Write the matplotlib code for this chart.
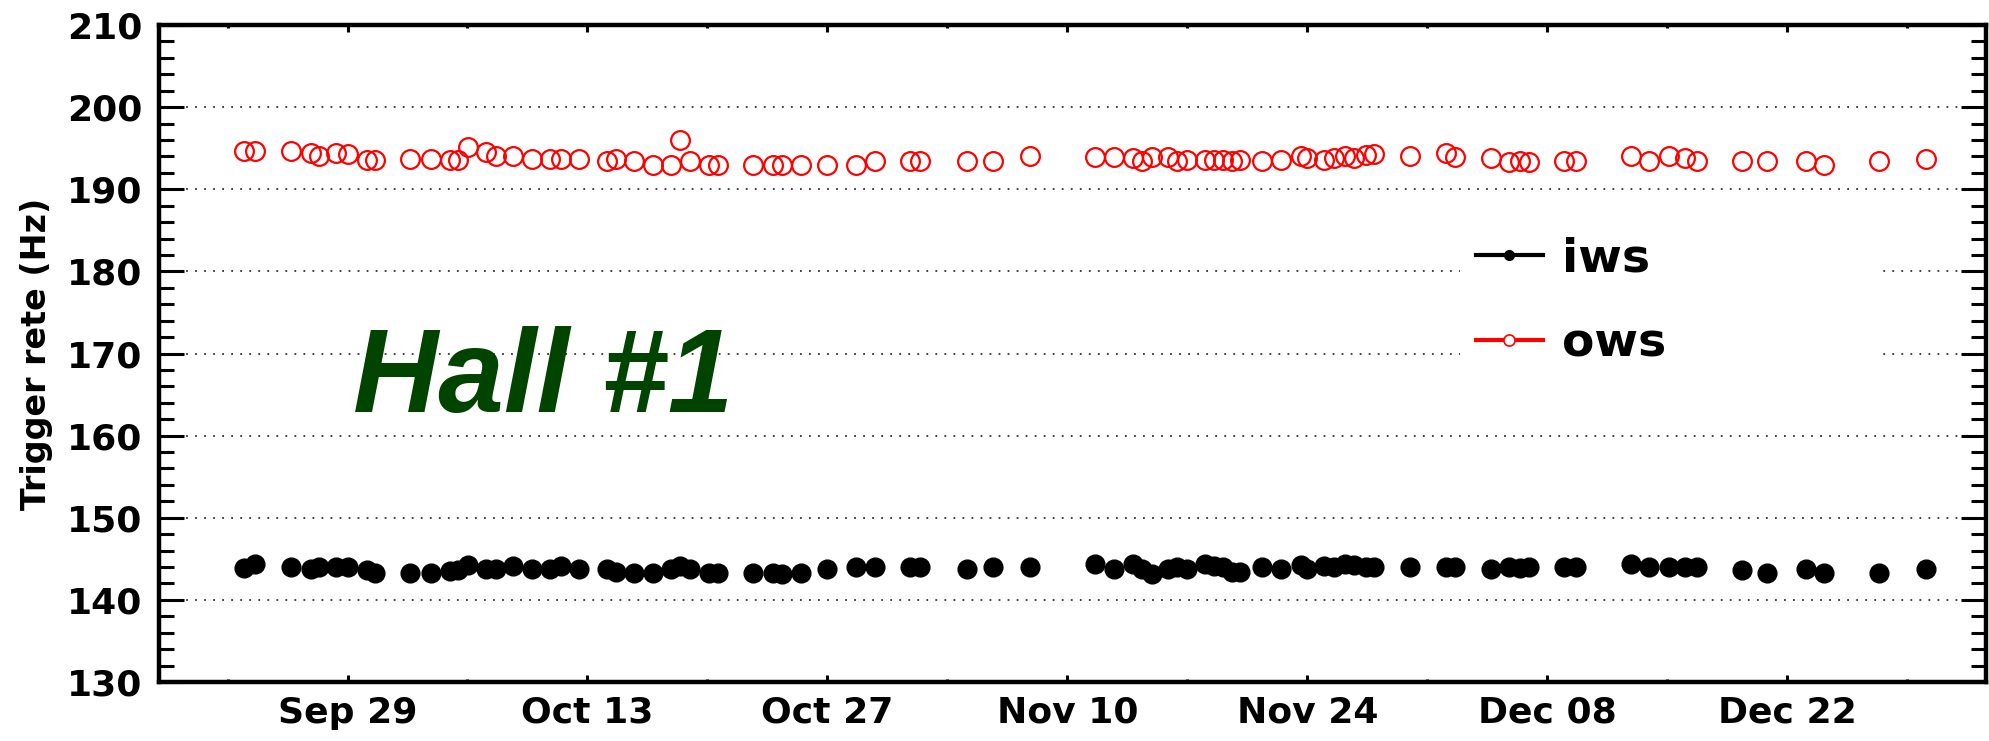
import datetime as dt
import matplotlib
matplotlib.use("Agg")
import matplotlib.pyplot as plt
import matplotlib.dates as mdates
import matplotlib.ticker as mticker
from matplotlib.lines import Line2D
from matplotlib.patches import Rectangle

# ---------------- data ----------------
base_date = dt.datetime(2011, 9, 29)
# run times, in days relative to Sep 29
days = [
    -6.05, -5.40, -3.27, -2.14, -1.66, -0.65, 0.00, 1.13, 1.63,
    3.62, 4.87, 5.96, 6.45, 7.02, 8.10, 8.65, 9.67, 10.75, 11.81, 12.47, 13.52,
    15.14, 15.64, 16.73, 17.83, 18.89, 19.42, 19.99, 21.10, 21.62,
    23.65, 24.80, 25.36, 26.48, 28.00, 29.69, 30.75, 32.84, 33.42, 36.15, 37.66, 39.82,
    43.63, 44.75, 45.84, 46.37, 46.94, 47.88, 48.40, 48.97, 50.02, 50.54, 51.11, 51.58,
    52.10, 53.35, 54.45, 55.62, 56.01, 57.00, 57.57, 58.22, 58.75, 59.40, 59.92,
    61.98, 64.09, 64.62, 66.72, 67.78, 68.41, 68.92, 70.99, 71.68,
    74.87, 75.96, 77.11, 78.03, 78.72, 81.38, 82.85, 85.08, 86.17, 89.36, 92.11]

iws = [
    143.9, 144.4, 144.0, 143.7, 144.0, 144.0, 144.0, 143.6, 143.3,
    143.3, 143.3, 143.5, 143.6, 144.2, 143.8, 143.7, 144.1, 143.7, 143.7, 144.1, 143.7,
    143.7, 143.4, 143.3, 143.3, 143.8, 144.1, 143.8, 143.3, 143.3,
    143.3, 143.3, 143.2, 143.3, 143.7, 144.0, 144.0, 144.0, 144.0, 143.7, 144.0, 144.0,
    144.4, 143.8, 144.4, 143.8, 143.2, 143.8, 144.0, 143.8, 144.4, 144.1, 144.0, 143.4,
    143.4, 144.0, 143.8, 144.3, 143.8, 144.1, 144.0, 144.4, 144.3, 144.0, 144.0,
    144.0, 144.0, 144.0, 143.7, 144.0, 143.9, 144.0, 144.0, 144.0,
    144.4, 144.0, 144.0, 144.0, 144.0, 143.6, 143.3, 143.7, 143.3, 143.3, 143.7]

ows = [
    194.7, 194.7, 194.7, 194.4, 194.1, 194.4, 194.3, 193.6, 193.6,
    193.7, 193.7, 193.6, 193.6, 195.2, 194.5, 194.0, 194.0, 193.7, 193.7, 193.7, 193.7,
    193.4, 193.7, 193.4, 193.0, 193.0, 196.0, 193.4, 193.0, 193.0,
    193.0, 193.0, 193.0, 193.0, 193.0, 193.0, 193.4, 193.4, 193.4, 193.4, 193.4, 194.0,
    193.9, 193.9, 193.8, 193.5, 193.9, 193.9, 193.5, 193.6, 193.6, 193.6, 193.6, 193.4,
    193.6, 193.4, 193.6, 194.0, 193.8, 193.6, 193.8, 194.1, 193.8, 194.2, 194.3,
    194.0, 194.4, 193.9, 193.8, 193.3, 193.4, 193.3, 193.4, 193.4,
    194.0, 193.4, 194.0, 193.8, 193.4, 193.4, 193.4, 193.4, 193.0, 193.4, 193.7]

series_labels = ["iws", "ows"]
x_major_dates = ["2011-09-29", "2011-10-13", "2011-10-27", "2011-11-10",
                 "2011-11-24", "2011-12-08", "2011-12-22"]
x_minor_dates = ["2011-09-22", "2011-10-06", "2011-10-20", "2011-11-03",
                 "2011-11-17", "2011-12-01", "2011-12-15", "2011-12-29"]
y_ticks = [130, 140, 150, 160, 170, 180, 190, 200, 210]
grid_levels = [140, 150, 160, 170, 180, 190, 200]
x_start_day, x_end_day = -11.0, 95.6
ylim = (130, 210)
ylabel = "Trigger rete (Hz)"
hall_text = "Hall #1"

# ---------------- figure ----------------
W, H = 1990, 741
fig = plt.figure(figsize=(W / 100, H / 100), dpi=100)
L, R, B, T = 159, 1986, 682, 25
ax = fig.add_axes([L / W, 1 - B / H, (R - L) / W, (B - T) / H])

base_num = mdates.date2num(base_date)
x = [base_num + d for d in days]

ax.plot(x, iws, linestyle="none", marker="o", markersize=13.5,
        markerfacecolor="black", markeredgecolor="black", markeredgewidth=1, zorder=3)
ax.plot(x, ows, linestyle="none", marker="o", markersize=13.5,
        markerfacecolor="none", markeredgecolor="red", markeredgewidth=1.6, zorder=3)

ax.set_xlim(base_num + x_start_day, base_num + x_end_day)
ax.set_ylim(*ylim)

# grid lines (dotted) at major levels
for g in grid_levels:
    ax.axhline(g, color="#333333", linestyle=(0, (1, 4)), linewidth=1.3, zorder=1)

# white box behind legend (breaks the gridlines there)
ax.add_patch(Rectangle((0.712, 0.45), 0.2316, 0.26, transform=ax.transAxes,
                       facecolor="white", edgecolor="none", zorder=2))

# axes ticks
ax.xaxis.set_major_locator(mticker.FixedLocator(
    [mdates.datestr2num(d) for d in x_major_dates]))
ax.xaxis.set_minor_locator(mticker.FixedLocator(
    [mdates.datestr2num(d) for d in x_minor_dates]))
ax.xaxis.set_major_formatter(mdates.DateFormatter("%b %d"))
ax.set_yticks(y_ticks)
ax.yaxis.set_minor_locator(mticker.MultipleLocator(2))

for sp in ax.spines.values():
    sp.set_linewidth(3.2)

ax.tick_params(axis="y", which="major", direction="in", length=18, width=2.2,
               left=True, right=True, pad=12, labelsize=26)
ax.tick_params(axis="y", which="minor", direction="in", length=10.5, width=2.2,
               left=True, right=True)
ax.tick_params(axis="x", which="major", direction="in", length=5, width=2.2,
               top=True, bottom=True, pad=10, labelsize=26)
ax.tick_params(axis="x", which="minor", direction="in", length=2.2, width=2.2,
               top=True, bottom=True)
for lab in ax.get_xticklabels() + ax.get_yticklabels():
    lab.set_fontweight("bold")
    lab.set_family("DejaVu Sans")

ax.set_ylabel(ylabel, fontsize=24, fontweight="bold", family="DejaVu Sans")
ax.yaxis.set_label_coords(-0.058, 0.5)

ax.text(0.106, 0.411, hall_text, transform=ax.transAxes, ha="left", va="baseline",
        fontsize=85, fontweight="bold", fontstyle="italic", color="#004400",
        family="Liberation Sans", zorder=4)

handles = [
    Line2D([], [], color="black", linewidth=3, marker="o", markersize=7,
           markerfacecolor="black", markeredgecolor="black"),
    Line2D([], [], color="red", linewidth=3, marker="o", markersize=8,
           markerfacecolor="white", markeredgecolor="red", markeredgewidth=1.2),
]
leg = ax.legend(handles, series_labels, loc="center left", bbox_to_anchor=(0.708, 0.579),
                frameon=False, borderpad=0, handlelength=1.41, handletextpad=0.4,
                labelspacing=0.85, prop={"family": "DejaVu Sans", "weight": "bold", "size": 34})
leg.set_zorder(5)

fig.savefig("out.png", dpi=100)
